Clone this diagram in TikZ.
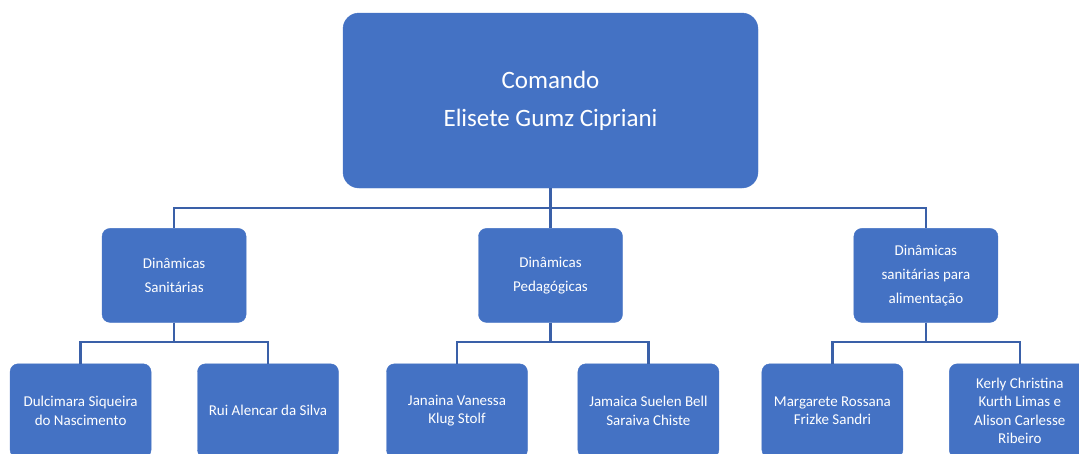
\documentclass[tikz,border=0pt]{standalone}
\usepackage{fontspec}
\setmainfont{Carlito}
\usetikzlibrary{positioning}
\definecolor{unitfill}{HTML}{4472C4}
\definecolor{unitline}{HTML}{3A60A8}
\newcommand{\OrgChartGap}{46pt}

\begin{document}
\begin{tikzpicture}[x=1pt, y=1pt,
		unit/.style={fill=unitfill, draw=unitfill, text=white, align=center, inner sep=0pt, rounded corners=8pt},
		topunit/.style={unit, minimum width=415pt, minimum height=175pt, rounded corners=16pt, font=\fontsize{25}{38}\selectfont},
		midunit/.style={unit, minimum width=144pt, minimum height=94pt, font=\fontsize{15}{24}\selectfont},
		subunit/.style={unit, minimum width=141pt, minimum height=94pt, font=\fontsize{15}{18.5}\selectfont},
		link/.style={draw=unitline, line width=2.4pt}]
		\useasboundingbox (0,0) rectangle (1079,-453);
		\node[topunit] (a1) at (550.5,-100.5) {Comando\\Elisete Gumz Cipriani};
		\node[midunit, below=40pt of a1] (b2) {Dinâmicas\\Pedagógicas};
		\node[midunit, left=232pt of b2] (b1) {Dinâmicas\\Sanitárias};
		\node[midunit, right=231pt of b2] (b3) {Dinâmicas\\sanitárias para\\alimentação};
		\node[subunit, below=41pt of b1, xshift=-93.5pt] (c1) {Dulcimara Siqueira\\do Nascimento};
		\node[subunit, right=\OrgChartGap of c1] (c2) {Rui Alencar da Silva};
		\node[subunit, below=41pt of b2, xshift=-93.5pt] (c3) {Janaina Vanessa\\Klug Stolf};
		\node[subunit, right=\OrgChartGap+4pt of c3] (c4) {Jamaica Suelen Bell\\Saraiva Chiste};
		\node[subunit, below=41pt of b3, xshift=-93.5pt] (c5) {Margarete Rossana\\Frizke Sandri};
		\node[subunit, right=\OrgChartGap of c5] (c6) {Kerly Christina\\Kurth Limas e\\Alison Carlesse\\Ribeiro};
		\foreach \p/\c in {a1/b1, a1/b2, a1/b3, b1/c1, b1/c2, b2/c3, b2/c4, b3/c5, b3/c6}
			\draw[link] (\p.south) -- ++(0,-19.5) -| (\c.north);
	\end{tikzpicture}
\end{document}
